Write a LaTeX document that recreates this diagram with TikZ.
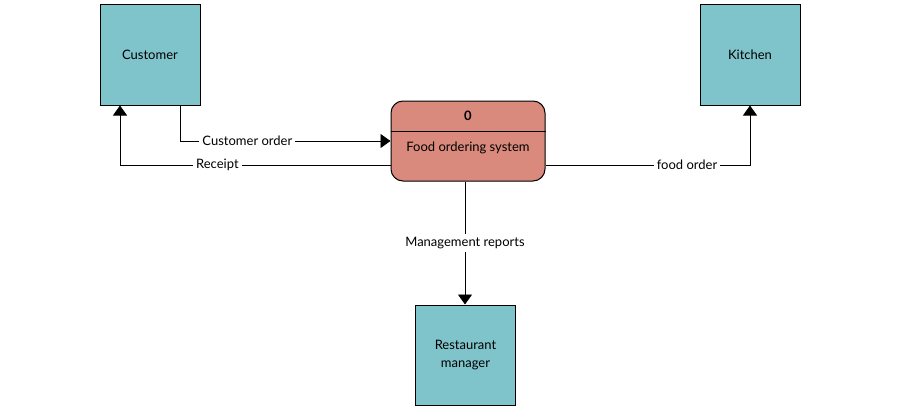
\documentclass[tikz,border=0pt]{standalone}
\usepackage{fontspec}
\setmainfont{Lato}
\usetikzlibrary{arrows.meta}
\definecolor{entity}{HTML}{7FC4CB}
\definecolor{proc}{HTML}{D98A7C}
\tikzset{
  entity/.style={draw=black, line width=1pt, fill=entity, minimum width=100pt, minimum height=100pt, inner sep=0pt, align=center, font=\fontsize{13}{18}\selectfont},
  procbox/.style={draw=black, line width=1pt, fill=proc, rounded corners=12pt, minimum width=154pt, minimum height=80pt, inner sep=0pt},
  flow/.style={line width=0.9pt, -{Triangle[width=14pt,length=10pt]}},
  lbl/.style={fill=white, inner sep=3pt, font=\fontsize{13}{16}\selectfont},
  ptext/.style={font=\fontsize{13}{16}\selectfont, inner sep=0pt}
}
\begin{document}
\begin{tikzpicture}[x=1pt,y=-1pt]
\useasboundingbox[fill=white] (0,0) rectangle (900,420);
\node[entity] (cust) at (150,55) {Customer};
\node[entity] (kit) at (750,55) {Kitchen};
\node[entity] (mgr) at (465.5,355) {Restaurant\\manager};
\node[procbox] (sys) at (468,141) {};
\draw[line width=1pt] (sys.west |- 0,131) -- (sys.east |- 0,131);
\node[ptext] (zero) at (468,116) {\bfseries 0};
\node[ptext] (fos) at (468,148) {Food ordering system};
\draw[flow] ([xshift=30pt]cust.south) |- (sys.west) node[lbl, pos=0.66] {Customer order};
\draw[flow] ([yshift=-24pt]sys.west) -| ([xshift=-30pt]cust.south) node[lbl, pos=0.32] {Receipt};
\draw[flow] ([yshift=-24pt]sys.east) -| (kit.south) node[lbl, pos=0.346] {food order};
\draw[flow] ([xshift=-3pt]sys.south) -- ([xshift=-0.5pt]mgr.north) node[lbl, pos=0.5] {Management reports};
\end{tikzpicture}
\end{document}
